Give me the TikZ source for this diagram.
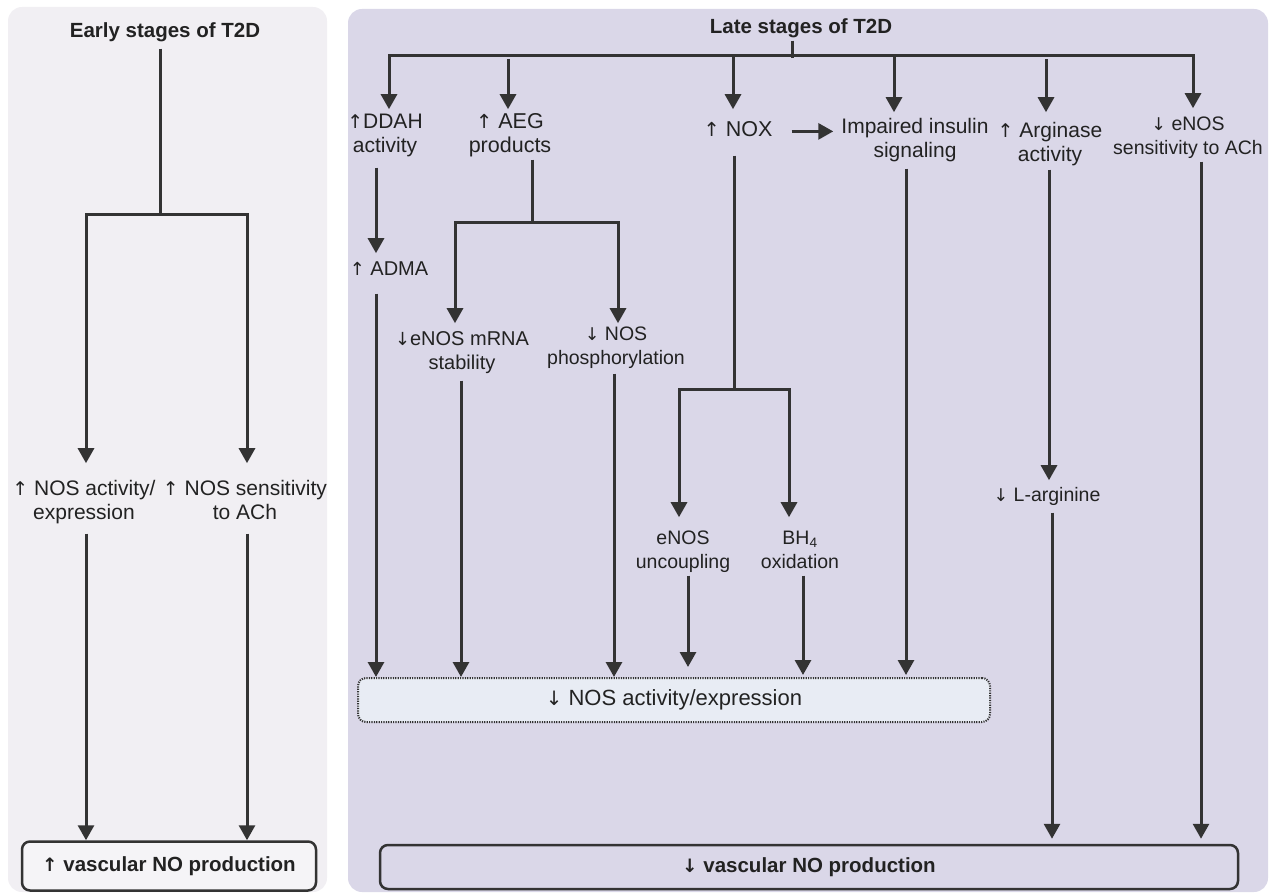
\documentclass[tikz,border=0pt]{standalone}
\usepackage{fontspec}
\setmainfont{Liberation Sans}
\newfontfamily\arw{DejaVu Sans}[Scale=0.9]
\newcommand\upa{{\arw ↑}}
\newcommand\dna{{\arw ↓}}
\usetikzlibrary{arrows.meta}
\definecolor{ink}{HTML}{333333}
\definecolor{txt}{HTML}{222222}
\definecolor{leftbg}{HTML}{F1EFF3}
\definecolor{rightbg}{HTML}{DAD7E8}
\definecolor{nosfill}{HTML}{E8ECF4}
\definecolor{outfill}{HTML}{F5F4F7}
\newcommand\fsz[1]{\fontsize{#1}{24}\selectfont}
\begin{document}
\begin{tikzpicture}[x=1pt,y=-1pt,
  ln/.style={draw=ink,line width=3pt},
  arr/.style={ln,-{Triangle[length=15pt,width=16pt]}},
  lbl/.style={text=txt,align=center,inner sep=0pt,anchor=north},
  ttl/.style={text=txt,inner sep=0pt,anchor=north,font=\bfseries\fsz{20.5}},
  outbox/.style={draw=ink,line width=2.5pt,rounded corners=8pt,inner sep=0pt,text=txt,font=\bfseries\fsz{20.5}},
]
\useasboundingbox (0,0) rectangle (1273,893);
\fill[leftbg,rounded corners=14pt] (8,7) rectangle (327,892);
\fill[rightbg,rounded corners=14pt] (348,9) rectangle (1268,892);

% ---------- nodes ----------
\node[ttl] (early) at (165,20.2) {\strut Early stages of T2D};
\node[ttl] (late) at (801,16.2) {\strut Late stages of T2D};
\node[lbl,font=\fsz{21}] (nosact) at (84,478.2) {\strut\upa\ NOS activity/\\\strut expression};
\node[lbl,font=\fsz{21}] (nossens) at (245,478.2) {\strut\upa\ NOS sensitivity\\\strut to ACh};
\node[lbl,font=\fsz{21}] (ddah) at (385,111.2) {\strut\upa DDAH\\\strut activity};
\node[lbl,font=\fsz{21.5}] (aeg) at (510,111.2) {\strut\upa\ AEG\\\strut products};
\node[lbl,font=\fsz{21.5}] (nox) at (738,119.2) {\strut\upa\ NOX};
\node[lbl,font=\fsz{21}] (ins) at (915,116.2) {\strut Impaired insulin\\\strut signaling};
\node[lbl,font=\fsz{21}] (arg) at (1050,120.2) {\strut\upa\ Arginase\\\strut activity};
\node[lbl,font=\fsz{19.5}] (esens) at (1188,113.2) {\strut\dna\ eNOS\\\strut sensitivity to ACh};
\node[lbl,font=\fsz{20}] (adma) at (389,258.2) {\strut\upa\ ADMA};
\node[lbl,font=\fsz{20}] (mrna) at (462,328.2) {\strut\dna eNOS mRNA\\\strut stability};
\node[lbl,font=\fsz{19.5}] (phos) at (616,323.2) {\strut\dna\ NOS\\\strut phosphorylation};
\node[lbl,font=\fsz{19.5}] (unc) at (683,527.2) {\strut eNOS\\\strut uncoupling};
\node[lbl,font=\fsz{19.5}] (bh4) at (800,527.2) {\strut BH\textsubscript{4}\\\strut oxidation};
\node[lbl,font=\fsz{19.5}] (larg) at (1047,484.2) {\strut\dna\ L-arginine};

\node[draw=ink,line width=2pt,dash pattern=on 1.2pt off 1.2pt,fill=nosfill,rounded corners=8pt,
      minimum width=632pt,minimum height=44pt,inner sep=0pt,text=txt,font=\fsz{22}] (nosbox) at (674,700) {\dna\ NOS activity/expression};
\node[outbox,fill=outfill,minimum width=294pt,minimum height=49pt] (outL) at (169,866) {\upa\ vascular NO production};
\node[outbox,fill=rightbg,minimum width=858pt,minimum height=44pt] (outR) at (809,867) {\dna\ vascular NO production};

% ---------- column coordinates ----------
\coordinate (lbus) at (0,215);
\coordinate (xL0) at (160,0);
\coordinate (xL1) at (86,0);
\coordinate (xL2) at (247,0);
\coordinate (bus) at (0,56);
\coordinate (aegbus) at (0,223);
\coordinate (noxbus) at (0,389);
\coordinate (xT) at (792,0);
\coordinate (xA1) at (389,0);
\coordinate (xD1) at (376,0);
\coordinate (xA2) at (508,0);
\coordinate (xD2) at (532,0);
\coordinate (xA3) at (733,0);
\coordinate (xD3) at (734,0);
\coordinate (xA4) at (894,0);
\coordinate (xD4) at (906,0);
\coordinate (xA5) at (1046,0);
\coordinate (xD5) at (1049,0);
\coordinate (xA6) at (1193,0);
\coordinate (xD6) at (1201,0);
\coordinate (xM1) at (455,0);
\coordinate (xM2) at (618,0);
\coordinate (xDm) at (461,0);
\coordinate (xDp) at (614,0);
\coordinate (xU1) at (679,0);
\coordinate (xU2) at (789,0);
\coordinate (xDu) at (688,0);
\coordinate (xDb) at (803,0);
\coordinate (xLd) at (1052,0);

% ---------- left panel ----------
\draw[ln,shorten <=4pt] (early.south -| xL0) -- (lbus -| xL0);
\draw[arr,shorten >=15pt] (lbus -| xL0) -| (nosact.north -| xL1);
\draw[arr,shorten >=15pt] (lbus -| xL0) -| (nossens.north -| xL2);
\draw[arr,shorten <=7pt] (nosact.south -| xL1) -- (outL.north -| xL1);
\draw[arr,shorten <=7pt] (nossens.south -| xL2) -- (outL.north -| xL2);

% ---------- right panel ----------
\draw[ln] (late.south -| xT) -- ([yshift=-2pt]bus -| xT);
\draw[arr,shorten >=2pt] (bus -| xT) -| (ddah.north -| xA1);
\draw[arr,shorten >=5pt] (bus -| xT) -| (esens.north -| xA6);
\draw[arr,shorten <=3pt,shorten >=2pt] (bus -| xA2) -- (aeg.north -| xA2);
\draw[arr,shorten >=10pt] (bus -| xA3) -- (nox.north -| xA3);
\draw[arr,shorten >=4pt] (bus -| xA4) -- (ins.north -| xA4);
\draw[arr,shorten <=3pt,shorten >=8pt] (bus -| xA5) -- (arg.north -| xA5);

\draw[arr,shorten <=8pt,shorten >=5pt] (ddah.south -| xD1) -- (adma.north -| xD1);
\draw[arr,shorten <=11pt] (adma.south -| xD1) -- (nosbox.north -| xD1);

\draw[ln] (aeg.south -| xD2) -- (aegbus -| xD2);
\draw[arr,shorten >=5pt] (aegbus -| xD2) -| (mrna.north -| xM1);
\draw[arr] (aegbus -| xD2) -| (phos.north -| xM2);
\draw[arr,shorten <=4pt] (mrna.south -| xDm) -- (nosbox.north -| xDm);
\draw[arr,shorten <=2pt] (phos.south -| xDp) -- (nosbox.north -| xDp);

\draw[ln,shorten <=12pt] (nox.south -| xD3) -- (noxbus -| xD3);
\draw[arr,shorten >=10pt] (noxbus -| xD3) -| (unc.north -| xU1);
\draw[arr,shorten >=10pt] (noxbus -| xD3) -| (bh4.north -| xU2);
\draw[arr,shorten >=10pt] (unc.south -| xDu) -- (nosbox.north -| xDu);
\draw[arr,shorten >=2pt] (bh4.south -| xDb) -- (nosbox.north -| xDb);
\draw[arr,shorten <=19pt,shorten >=8pt] (nox.east) -- (nox.east -| ins.west);

\draw[arr,shorten <=4pt,shorten >=2pt] (ins.south -| xD4) -- (nosbox.north -| xD4);

\draw[arr,shorten <=1pt,shorten >=4pt] (arg.south -| xD5) -- (larg.north -| xD5);
\draw[arr,shorten <=4pt,shorten >=5pt] (larg.south -| xLd) -- (outR.north -| xLd);

\draw[arr,shorten >=5pt] (esens.south -| xD6) -- (outR.north -| xD6);
\end{tikzpicture}
\end{document}
